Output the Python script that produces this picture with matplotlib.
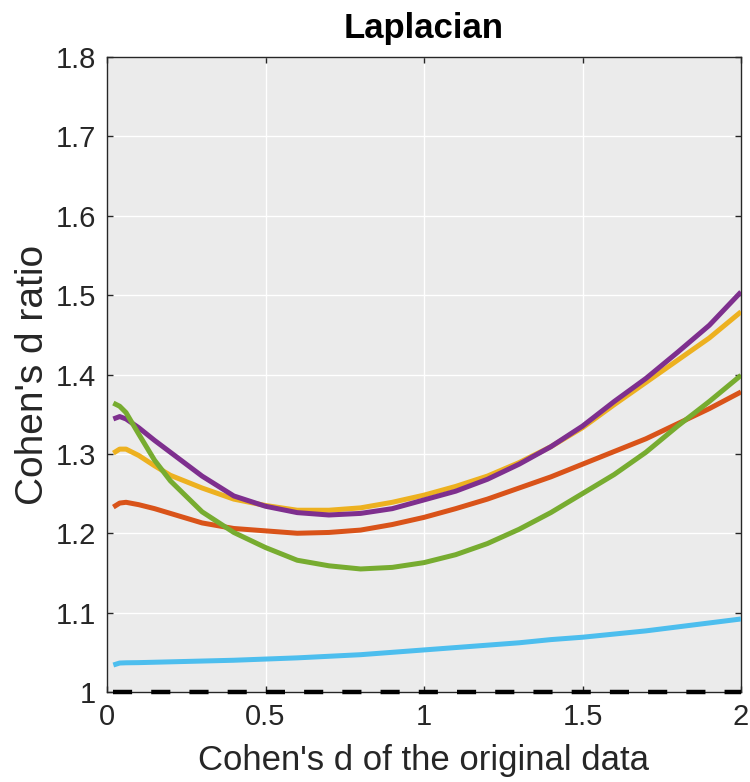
import matplotlib
matplotlib.use("Agg")
import matplotlib.pyplot as plt

plt.rcParams['font.family'] = ['Liberation Sans', 'DejaVu Sans']

# Cohen's d of the original data
x = [0.02, 0.04, 0.06, 0.1, 0.15, 0.2, 0.3, 0.4, 0.5, 0.6, 0.7, 0.8,
     0.9, 1.0, 1.1, 1.2, 1.3, 1.4, 1.5, 1.6, 1.7, 1.8, 1.9, 2.0]

# Cohen's d ratio for each series
orange = [1.233, 1.238, 1.239, 1.236, 1.231, 1.225, 1.213, 1.206, 1.203, 1.200, 1.201, 1.204,
          1.211, 1.220, 1.231, 1.243, 1.257, 1.271, 1.287, 1.303, 1.319, 1.338, 1.357, 1.378]
yellow = [1.301, 1.306, 1.306, 1.298, 1.285, 1.273, 1.257, 1.243, 1.235, 1.229, 1.229, 1.232,
          1.239, 1.248, 1.259, 1.272, 1.289, 1.309, 1.333, 1.362, 1.390, 1.418, 1.446, 1.479]
purple = [1.344, 1.347, 1.344, 1.333, 1.317, 1.302, 1.272, 1.247, 1.234, 1.226, 1.223, 1.225,
          1.231, 1.242, 1.253, 1.268, 1.287, 1.309, 1.335, 1.366, 1.395, 1.428, 1.462, 1.504]
green = [1.364, 1.360, 1.352, 1.325, 1.292, 1.266, 1.227, 1.201, 1.182, 1.166, 1.159, 1.155,
         1.157, 1.163, 1.173, 1.187, 1.205, 1.226, 1.250, 1.274, 1.302, 1.335, 1.366, 1.399]
lightblue = [1.034, 1.0365, 1.0368, 1.037, 1.0375, 1.038, 1.039, 1.040, 1.0415, 1.043, 1.045, 1.047,
             1.050, 1.053, 1.056, 1.059, 1.062, 1.066, 1.069, 1.073, 1.077, 1.082, 1.087, 1.092]
baseline = [1.0] * len(x)

series = [orange, yellow, purple, green, lightblue]
colors = ['#D95319', '#EDB120', '#7E2F8E', '#77AC30', '#4DBEEE']

xticks = [0, 0.5, 1, 1.5, 2]
xticklabels = ['0', '0.5', '1', '1.5', '2']
yticks = [1, 1.1, 1.2, 1.3, 1.4, 1.5, 1.6, 1.7, 1.8]
yticklabels = ['1', '1.1', '1.2', '1.3', '1.4', '1.5', '1.6', '1.7', '1.8']

fig = plt.figure(figsize=(7.5, 7.82), dpi=100)
ax = fig.add_axes([107 / 750, 90 / 782, 634 / 750, 635 / 782])
ax.set_facecolor('#EBEBEB')

for y, c in zip(series, colors):
    ax.plot(x, y, color=c, linewidth=3.6, solid_capstyle='butt', zorder=3)

# reference line at ratio 1
ax.plot(x, baseline, color='black', linewidth=3.2, dashes=(4.3, 4.3),
        clip_on=False, zorder=5)

ax.set_xlim(0, 2)
ax.set_ylim(1, 1.8)
ax.set_xticks(xticks)
ax.set_xticklabels(xticklabels)
ax.set_yticks(yticks)
ax.set_yticklabels(yticklabels)
ax.grid(True, color='white', linewidth=1.0)
ax.set_axisbelow(True)

ax.tick_params(direction='in', length=4.5, width=1, top=True, right=True,
               labelsize=21, colors='#262626', pad=8)
for s in ax.spines.values():
    s.set_color('#262626')
    s.set_linewidth(1)

ax.set_xlabel("Cohen's d of the original data", fontsize=25, color='#262626', labelpad=9)
ax.set_ylabel("Cohen's d ratio", fontsize=28, color='#262626', labelpad=3)
ax.set_title('Laplacian', fontsize=25, fontweight='bold', pad=14)

fig.savefig('out.png', dpi=100)
